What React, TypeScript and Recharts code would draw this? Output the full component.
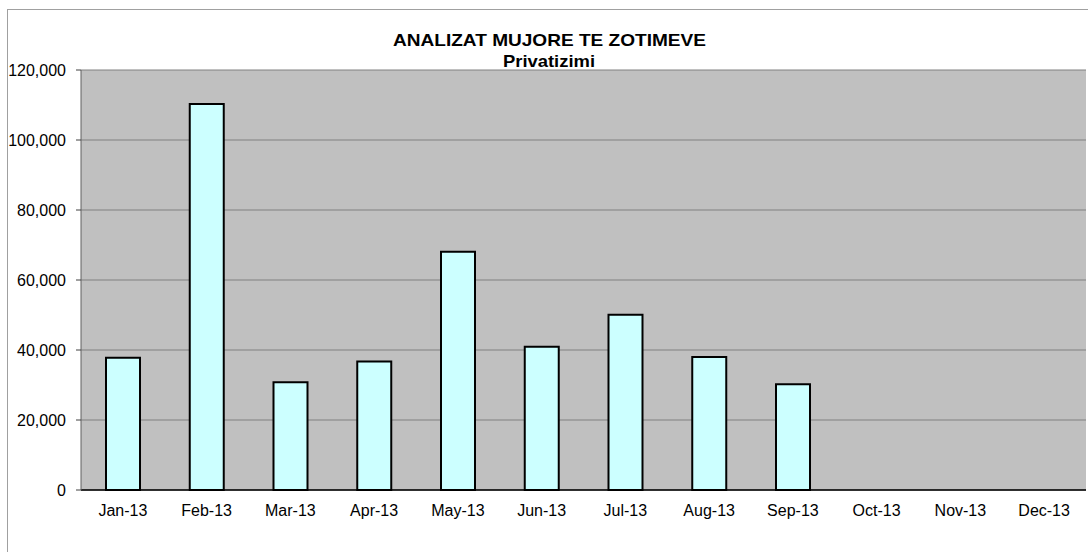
import React from 'react';
import { BarChart, Bar, XAxis, YAxis, CartesianGrid } from 'recharts';

const months = ['Jan-13', 'Feb-13', 'Mar-13', 'Apr-13', 'May-13', 'Jun-13', 'Jul-13', 'Aug-13', 'Sep-13', 'Oct-13', 'Nov-13', 'Dec-13'];
const privatizimi: (number | null)[] = [37800, 110300, 30800, 36700, 68100, 40900, 50100, 38000, 30200, null, null, null];
const yTicks = [0, 20000, 40000, 60000, 80000, 100000, 120000];
const boundaryTicks = [0, 1, 2, 3, 4, 5, 6, 7, 8, 9, 10, 11, 12];
const titleLine1 = 'ANALIZAT MUJORE TE ZOTIMEVE';
const titleLine2 = 'Privatizimi';

const data = months.map((m, i) => ({ month: m, value: privatizimi[i] }));

const font = "'Liberation Sans', Arial, sans-serif";

export default function App() {
  return (
    <div style={{ position: 'absolute', left: 0, top: 0, width: 1088, height: 552, overflow: 'hidden', background: '#fff' }}>
      <div style={{ position: 'absolute', left: 7, top: 9, width: 1200, height: 700, borderTop: '1.5px solid #a0a0a0', borderLeft: '1.5px solid #a0a0a0' }} />
      <svg width={1088} height={80} style={{ position: 'absolute', left: 0, top: 0 }}>
        <text x={549.5} y={46} textAnchor="middle" fontFamily={font} fontWeight="bold" fontSize={17} fill="#000"
          textLength={313} lengthAdjust="spacingAndGlyphs">{titleLine1}</text>
        <text x={549} y={67} textAnchor="middle" fontFamily={font} fontWeight="bold" fontSize={17} fill="#000"
          textLength={92} lengthAdjust="spacingAndGlyphs">{titleLine2}</text>
      </svg>
      <div style={{ position: 'absolute', left: 0, top: 0 }}>
        <BarChart width={1088} height={552} data={data} margin={{ top: 70, right: 2, left: 0, bottom: 32 }} barSize={34}>
          <CartesianGrid xAxisId="cat" yAxisId="left" vertical={false} stroke="#808080" fill="#c0c0c0" fillOpacity={1} />
          <XAxis xAxisId="edge" type="number" domain={[0, 12]} ticks={boundaryTicks} height={0} axisLine={false}
            tickLine={{ stroke: '#808080' }} tickSize={5} tickFormatter={() => ''} allowDataOverflow />
          <XAxis xAxisId="cat" dataKey="month" height={30} interval={0}
            axisLine={{ stroke: '#000', strokeWidth: 1.5 }} tickLine={false} tickSize={5} tickMargin={10}
            tick={{ fill: '#000', fontSize: 16, fontFamily: font }} />
          <YAxis yAxisId="left" width={81} domain={[0, 120000]} ticks={yTicks} interval={0}
            axisLine={{ stroke: '#606060' }} tickLine={{ stroke: '#404040' }} tickSize={5} tickMargin={10}
            tickFormatter={(v: number) => v.toLocaleString('en-US')}
            tick={{ fill: '#000', fontSize: 16, fontFamily: font }} />
          <YAxis yAxisId="right" orientation="right" width={0} domain={[0, 120000]} tick={false} tickLine={false}
            axisLine={{ stroke: '#808080' }} />
          <Bar xAxisId="cat" yAxisId="left" dataKey="value" fill="#ccffff" stroke="#000" strokeWidth={2} isAnimationActive={false} />
        </BarChart>
      </div>
    </div>
  );
}
